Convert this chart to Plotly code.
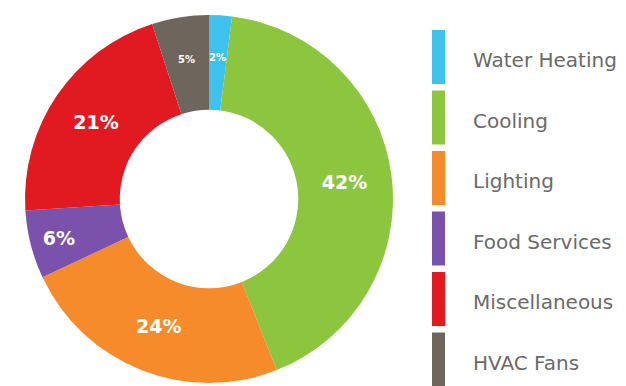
import math
import plotly.graph_objects as go

# Energy end-use shares (%), listed clockwise from 12 o'clock
categories = ["Water Heating", "Cooling", "Lighting", "Food Services", "Miscellaneous", "HVAC Fans"]
shares = [2, 42, 24, 6, 21, 5]
colors = ["#3ec2ec", "#8cc63f", "#f68b2c", "#7b52ab", "#e11a22", "#6e655c"]

W, H = 626, 386
# donut placement in pixels
cx, cy, r_out = 209, 199, 184
hole = 0.485
small = 6  # slices below this share get a small label placed on the ring

fig = go.Figure()
fig.add_trace(go.Pie(
    labels=categories,
    values=shares,
    hole=hole,
    sort=False,
    direction="clockwise",
    rotation=0,
    marker=dict(colors=colors, line=dict(width=0)),
    texttemplate=["" if v < small else "%{value}%" for v in shares],
    textposition="inside",
    insidetextorientation="horizontal",
    textfont=dict(family="DejaVu Sans", color="white", size=19, weight="bold"),
    domain=dict(x=[(cx - r_out) / W, (cx + r_out) / W],
                y=[1 - (cy + r_out) / H, 1 - (cy - r_out) / H]),
    showlegend=False,
))

annotations = []
# small-slice labels at the middle of the ring, on each slice's bisector
total = sum(shares)
r_mid = r_out * (1 + hole) / 2 + 5
cum = 0
for v in shares:
    mid = (cum + v / 2) / total * 2 * math.pi
    cum += v
    if v < small:
        px = cx + r_mid * math.sin(mid)
        py = cy - r_mid * math.cos(mid)
        annotations.append(dict(xref="paper", yref="paper", x=px / W, y=1 - py / H,
                                text=f"{v}%", showarrow=False, xanchor="center", yanchor="middle",
                                font=dict(family="DejaVu Sans", size=10, color="white", weight="bold")))

# Legend: tall colour bars with a label beside each
bar_x0, bar_x1 = 432, 445
top, pitch, bar_h = 30, 60.5, 54
shapes = []
for i, (name, col) in enumerate(zip(categories, colors)):
    y0 = top + i * pitch
    shapes.append(dict(type="rect", xref="paper", yref="paper",
                       x0=bar_x0 / W, x1=bar_x1 / W,
                       y0=1 - (y0 + bar_h) / H, y1=1 - y0 / H,
                       fillcolor=col, line=dict(width=0)))
    annotations.append(dict(xref="paper", yref="paper", x=471 / W, y=1 - (y0 + bar_h / 2 + 3) / H,
                            text=name, showarrow=False, xanchor="left", yanchor="middle",
                            font=dict(family="DejaVu Sans", size=20, color="#6a6a6a")))

fig.update_layout(
    width=W, height=H,
    margin=dict(l=0, r=0, t=0, b=0),
    paper_bgcolor="white", plot_bgcolor="white",
    shapes=shapes, annotations=annotations,
)

fig.write_html("out.html")
